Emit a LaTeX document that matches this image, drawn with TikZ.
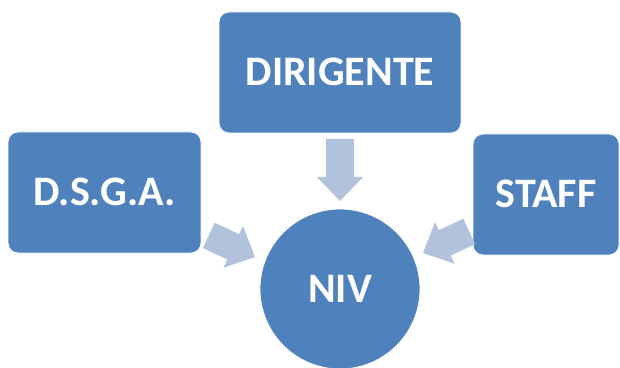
\documentclass[tikz,border=0pt]{standalone}
\usepackage{fontspec}
\setmainfont{Carlito}
\definecolor{boxblue}{RGB}{79,129,189}
\definecolor{arrowblue}{RGB}{178,193,220}
\begin{document}
\begin{tikzpicture}[x=1pt,y=1pt,
  box/.style={fill=boxblue, draw=white, line width=0.8pt, rounded corners=10pt,
    text=white, font=\fontsize{42}{42}\selectfont\bfseries,
    text height=26.5pt, text depth=0pt, inner sep=0pt},
  hub/.style={circle, fill=boxblue, draw=white, line width=0.8pt,
    text=white, font=\fontsize{42}{42}\selectfont\bfseries,
    text height=26.5pt, text depth=0pt, inner sep=0pt, minimum size=160pt},
  blockarrow/.style={fill=arrowblue, draw=none}]
\useasboundingbox (0,0) rectangle (620,367);
% boxes
\node[box, minimum width=242pt, minimum height=121pt] (dir) at (340,294.5) {DIRIGENTE};
\node[box, minimum width=193pt, minimum height=121pt] (dsga) at (104.5,174.5) {D.S.G.A.};
\node[box, minimum width=146pt, minimum height=121pt] (staff) at (546,172.5) {STAFF};
\node[hub] (niv) at (340,78) {NIV};
% block arrows
\coordinate (t1) at (340,166);
\coordinate (t2) at (255,110);
\coordinate (t3) at (423,114);
\fill[blockarrow, shift={(t1)}, rotate=-90]
  (0,0) -- (-24,23) -- (-24,14) -- (-62,14) -- (-62,-14) -- (-24,-14) -- (-24,-23) -- cycle;
\fill[blockarrow, shift={(t2)}, rotate=-25]
  (0,0) -- (-24,23) -- (-24,14) -- (-51,14) -- (-51,-14) -- (-24,-14) -- (-24,-23) -- cycle;
\fill[blockarrow, shift={(t3)}, rotate=205]
  (0,0) -- (-24,23) -- (-24,14) -- (-51,14) -- (-51,-14) -- (-24,-14) -- (-24,-23) -- cycle;
\end{tikzpicture}
\end{document}
